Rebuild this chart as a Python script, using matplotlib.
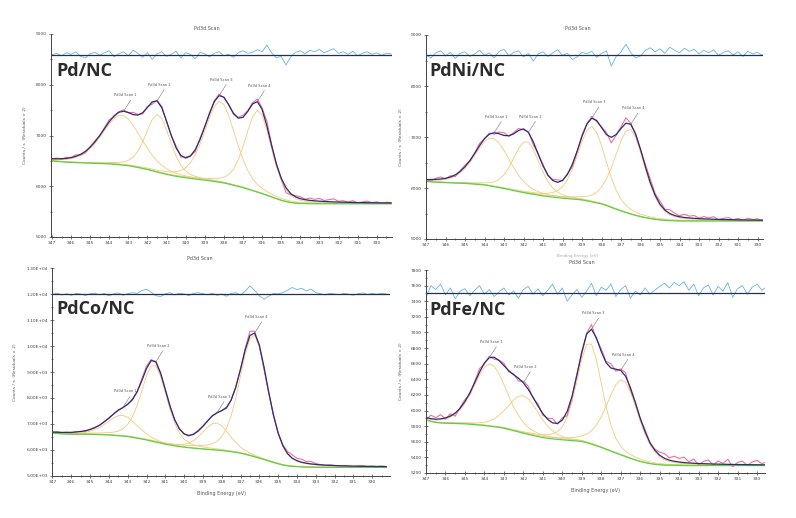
#!/usr/bin/python3

import numpy as np
import matplotlib
matplotlib.use("Agg")
from matplotlib import pyplot as plt
from matplotlib import ticker

# Binding energy grid (eV), 0.25 eV steps from 347 downwards
energy = [347 - 0.25 * i for i in range(72)]

sampleNames = ["Pd/NC", "PdNi/NC", "PdCo/NC", "PdFe/NC"]
peakNames = ["Pd3d Scan 1", "Pd3d Scan 2", "Pd3d Scan 3", "Pd3d Scan 4"]

# ---- Pd/NC ----
pdncBackground = [
    6498, 6490, 6483, 6476, 6470, 6466, 6462, 6458,
    6455, 6451, 6448, 6444, 6440, 6433, 6425, 6415,
    6405, 6388, 6370, 6350, 6330, 6305, 6280, 6257,
    6235, 6215, 6197, 6182, 6168, 6155, 6143, 6131,
    6120, 6107, 6094, 6080, 6065, 6043, 6020, 5997,
    5972, 5943, 5914, 5885, 5855, 5822, 5788, 5755,
    5723, 5698, 5678, 5667, 5661, 5658, 5656, 5655,
    5655, 5655, 5655, 5655, 5655, 5655, 5655, 5655,
    5655, 5655, 5655, 5655, 5655, 5655, 5655, 5655]
pdncCenters = [343.35, 341.45, 338.2, 336.2]
pdncHeights = [980, 1140, 1600, 1620]
pdncWidths = [2.4, 1.5, 1.9, 1.6]
pdncResidual = [
    0, 30, -20, 40, 10, 60, -30, -60,
    20, 50, -10, 40, 80, -40, 20, 60,
    -20, 90, 30, -50, 40, -90, 20, 60,
    -30, 10, 70, -60, 40, 10, -80, 50,
    20, -40, 30, 60, -20, 10, -50, 40,
    80, 30, 50, 100, 60, 190, 40, -60,
    -30, -200, -40, 50, 80, 20, 90, 60,
    110, 40, 80, 120, 30, 60, 10, 70,
    -20, 30, 60, 10, 40, -10, 30, 20]

# ---- PdNi/NC ----
pdniBackground = [
    6125, 6120, 6115, 6110, 6105, 6101, 6097, 6094,
    6090, 6083, 6076, 6068, 6060, 6043, 6025, 6008,
    5990, 5970, 5950, 5930, 5910, 5893, 5877, 5861,
    5845, 5833, 5822, 5811, 5800, 5792, 5784, 5776,
    5766, 5748, 5728, 5708, 5688, 5656, 5620, 5585,
    5550, 5520, 5490, 5463, 5439, 5418, 5400, 5386,
    5374, 5366, 5360, 5357, 5355, 5354, 5354, 5354,
    5354, 5354, 5354, 5354, 5354, 5354, 5354, 5354,
    5354, 5354, 5354, 5354, 5354, 5354, 5354, 5354]
pdniCenters = [343.6, 341.85, 338.5, 336.55]
pdniHeights = [950, 1020, 1480, 1660]
pdniWidths = [2.1, 1.6, 1.7, 1.8]
pdniResidual = [
    0, -60, 40, 80, -20, 50, -70, 30,
    60, -30, 20, 90, -10, 40, -60, 70,
    110, -20, 50, 80, -40, 30, -120, 20,
    60, -30, 40, 100, -10, 30, -90, -40,
    50, 20, 70, -50, 30, 80, -220, -30,
    60, 210, 40, -60, -20, 90, 140, 60,
    120, 30, 150, 90, 40, 130, 70, 110,
    20, 90, 40, 100, -10, 50, 80, 0,
    60, -30, 70, 20, 50, -10, 40, 10]

# ---- PdCo/NC ----
pdcoBackground = [
    6636, 6625, 6614, 6606, 6600, 6600, 6600, 6600,
    6598, 6592, 6585, 6578, 6570, 6557, 6543, 6527,
    6510, 6480, 6447, 6414, 6380, 6337, 6295, 6254,
    6215, 6183, 6153, 6125, 6100, 6080, 6062, 6046,
    6030, 6015, 6000, 5986, 5970, 5948, 5925, 5900,
    5870, 5827, 5780, 5731, 5680, 5625, 5568, 5512,
    5460, 5415, 5380, 5360, 5350, 5340, 5333, 5328,
    5325, 5322, 5322, 5322, 5322, 5322, 5322, 5322,
    5322, 5322, 5322, 5322, 5322, 5322, 5322, 5322]
pdcoCenters = [343.3, 341.6, 338.3, 336.3]
pdcoHeights = [800, 2980, 1050, 4700]
pdcoWidths = [1.9, 1.6, 1.7, 1.75]
pdcoResidual = [
    0, 40, -30, 20, -40, 30, 10, -50,
    20, 40, -20, 30, -60, 10, 50, -40,
    20, 60, 30, 140, 190, 80, -60, -90,
    20, 60, -30, 40, 10, -50, 30, 60,
    20, -20, 40, -40, 10, -80, 30, 60,
    -30, 120, 320, 150, -60, -190, -80, 30,
    10, 60, 150, 260, 180, 230, 120, 200,
    60, 20, -30, 40, 10, -20, 30, 0,
    -40, 20, 50, -10, 30, 0, 40, 10]

# ---- PdFe/NC ----
pdfeBackground = [
    5881, 5860, 5847, 5841, 5838, 5836, 5834, 5832,
    5830, 5825, 5820, 5814, 5808, 5800, 5792, 5784,
    5774, 5758, 5742, 5726, 5710, 5695, 5681, 5667,
    5654, 5645, 5637, 5631, 5625, 5620, 5615, 5610,
    5604, 5588, 5570, 5549, 5527, 5503, 5480, 5456,
    5433, 5410, 5388, 5367, 5348, 5333, 5320, 5311,
    5305, 5301, 5299, 5298, 5297, 5295, 5295, 5295,
    5295, 5295, 5295, 5295, 5295, 5295, 5295, 5295,
    5295, 5295, 5295, 5295, 5295, 5295, 5295, 5295]
pdfeCenters = [343.7, 342.0, 338.6, 336.9]
pdfeHeights = [800, 480, 1300, 970]
pdfeWidths = [2.0, 1.9, 1.5, 1.9]
pdfeResidual = [
    -60, 90, 40, 110, -30, 60, -80, 20,
    50, -40, 30, 90, -20, 40, -50, 10,
    60, -30, 20, -70, 40, 80, -20, 50,
    -40, 30, 110, -20, 60, -110, -30, 40,
    -60, 20, 120, -40, 70, 30, 110, -50,
    40, 90, -70, 20, -30, 60, -20, 30,
    80, 120, 60, 130, 90, 140, 30, 110,
    -40, 60, 100, -30, 80, 20, 130, -60,
    50, 90, -20, 70, 110, 30, 80, 40]

W, H = 796, 518


def peakShape(x, center, height, fwhm, mix=0.3):
    # Gaussian-Lorentzian sum, like the fitting software
    d = (x - center) / fwhm
    return height * ((1 - mix) * np.exp(-4 * np.log(2) * d ** 2) + mix / (1 + 4 * d ** 2))


def pixelAxes(fig, left, right, top, bottom):
    return fig.add_axes([left / W, 1 - bottom / H, (right - left) / W, (bottom - top) / H])


def drawPanel(ax, background, centers, heights, widths, residual, zeroLevel):
    x = np.array(energy)
    bg = np.array(background, dtype=float)
    res = np.array(residual, dtype=float)
    comps = [peakShape(x, c, h, w) for c, h, w in zip(centers, heights, widths)]
    envelope = bg + sum(comps)
    raw = envelope + res / 2
    for comp in comps:
        ax.plot(x, bg + comp, color="#f6c87a", lw=0.6)
    ax.plot(x, bg, color="#5cd048", lw=0.9)
    ax.plot(x, raw, color="#f0709a", lw=0.8)
    ax.plot(x, envelope, color="#2c2c72", lw=0.9)
    ax.plot(x, zeroLevel + res, color="#68b2ea", lw=0.6)
    ax.axhline(zeroLevel, color="#24304a", lw=0.9)
    for name, c in zip(peakNames, centers):
        i = int(np.argmin(np.abs(x - c)))
        ax.annotate(name, xy=(x[i], envelope[i]), xytext=(1.5, 10), textcoords="offset points",
                    ha="center", va="bottom", fontsize=2.6, color="#555555",
                    arrowprops=dict(arrowstyle="-", color="#777777", lw=0.4,
                                    shrinkA=0, shrinkB=0, relpos=(0.8, 0)))


def styleAxes(ax, xlim, ylim, ystep, yminor, fmt, ylabelX):
    ax.set_xlim(*xlim)
    ax.set_ylim(*ylim)
    ax.spines[["top", "right"]].set_visible(False)
    for s in ["left", "bottom"]:
        ax.spines[s].set_color("#444444")
        ax.spines[s].set_linewidth(0.7)
    ax.xaxis.set_major_locator(ticker.MultipleLocator(1))
    ax.xaxis.set_minor_locator(ticker.MultipleLocator(0.5))
    ax.xaxis.set_major_formatter(ticker.FormatStrFormatter("%d"))
    ax.yaxis.set_major_locator(ticker.MultipleLocator(ystep))
    ax.yaxis.set_minor_locator(ticker.MultipleLocator(yminor))
    ax.yaxis.set_major_formatter(fmt)
    ax.tick_params(which="both", direction="inout", labelsize=3.2, colors="#444444",
                   width=0.5, pad=1.5)
    ax.tick_params(which="major", length=3)
    ax.tick_params(which="minor", length=2)
    ax.set_ylabel("Counts / s  (Residuals \u00d7 2)", fontsize=3.2, color="#555555")
    ax.yaxis.set_label_coords(ylabelX, 0.5)


def main():
    fig = plt.figure(figsize=(W / 100, H / 100), dpi=100)
    intFmt = ticker.FormatStrFormatter("%d")
    sciFmt = ticker.FuncFormatter(lambda v, p: "%.2E" % v)

    ax1 = pixelAxes(fig, 51, 392, 34, 237)
    drawPanel(ax1, pdncBackground, pdncCenters, pdncHeights, pdncWidths, pdncResidual, 8590)
    styleAxes(ax1, (347.05, 329.2), (5000, 9000), 1000, 500, intFmt, -0.07)

    ax2 = pixelAxes(fig, 426, 763, 35, 239)
    drawPanel(ax2, pdniBackground, pdniCenters, pdniHeights, pdniWidths, pdniResidual, 8610)
    styleAxes(ax2, (347.0, 329.72), (5000, 9000), 1000, 500, intFmt, -0.068)

    ax3 = pixelAxes(fig, 52.5, 390, 268.3, 475.7)
    drawPanel(ax3, pdcoBackground, pdcoCenters, pdcoHeights, pdcoWidths, pdcoResidual, 12000)
    styleAxes(ax3, (347.0, 329.05), (5000, 13000), 1000, 500, sciFmt, -0.105)

    ax4 = pixelAxes(fig, 426, 765, 270, 473)
    drawPanel(ax4, pdfeBackground, pdfeCenters, pdfeHeights, pdfeWidths, pdfeResidual, 7510)
    styleAxes(ax4, (347.0, 329.59), (5200, 7800), 200, 100, intFmt, -0.068)

    for ax in [ax3, ax4]:
        ax.set_xlabel("Binding Energy (eV)", fontsize=3.5, color="#555555")
        ax.xaxis.set_label_coords(0.5, -0.075)

    # scan titles
    for (px, py) in [(207, 28), (578, 28), (200, 259), (582, 262)]:
        fig.text(px / W, 1 - py / H, "Pd3d Scan", fontsize=3.5, color="#555555",
                 ha="center", va="center")
    fig.text(578 / W, 1 - 256 / H, "Binding Energy (eV)", fontsize=3, color="#aaaaaa",
             ha="center", va="center")

    # sample labels
    for name, (px, py) in zip(sampleNames, [(56, 71), (429, 71), (56, 309), (429, 310)]):
        fig.text(px / W, 1 - py / H, name, fontsize=13, fontweight="bold", color="#2b2b2b",
                 family="Open Sans", ha="left", va="center")

    plt.savefig("out.png", dpi=100)


if __name__ == '__main__':
    main()
